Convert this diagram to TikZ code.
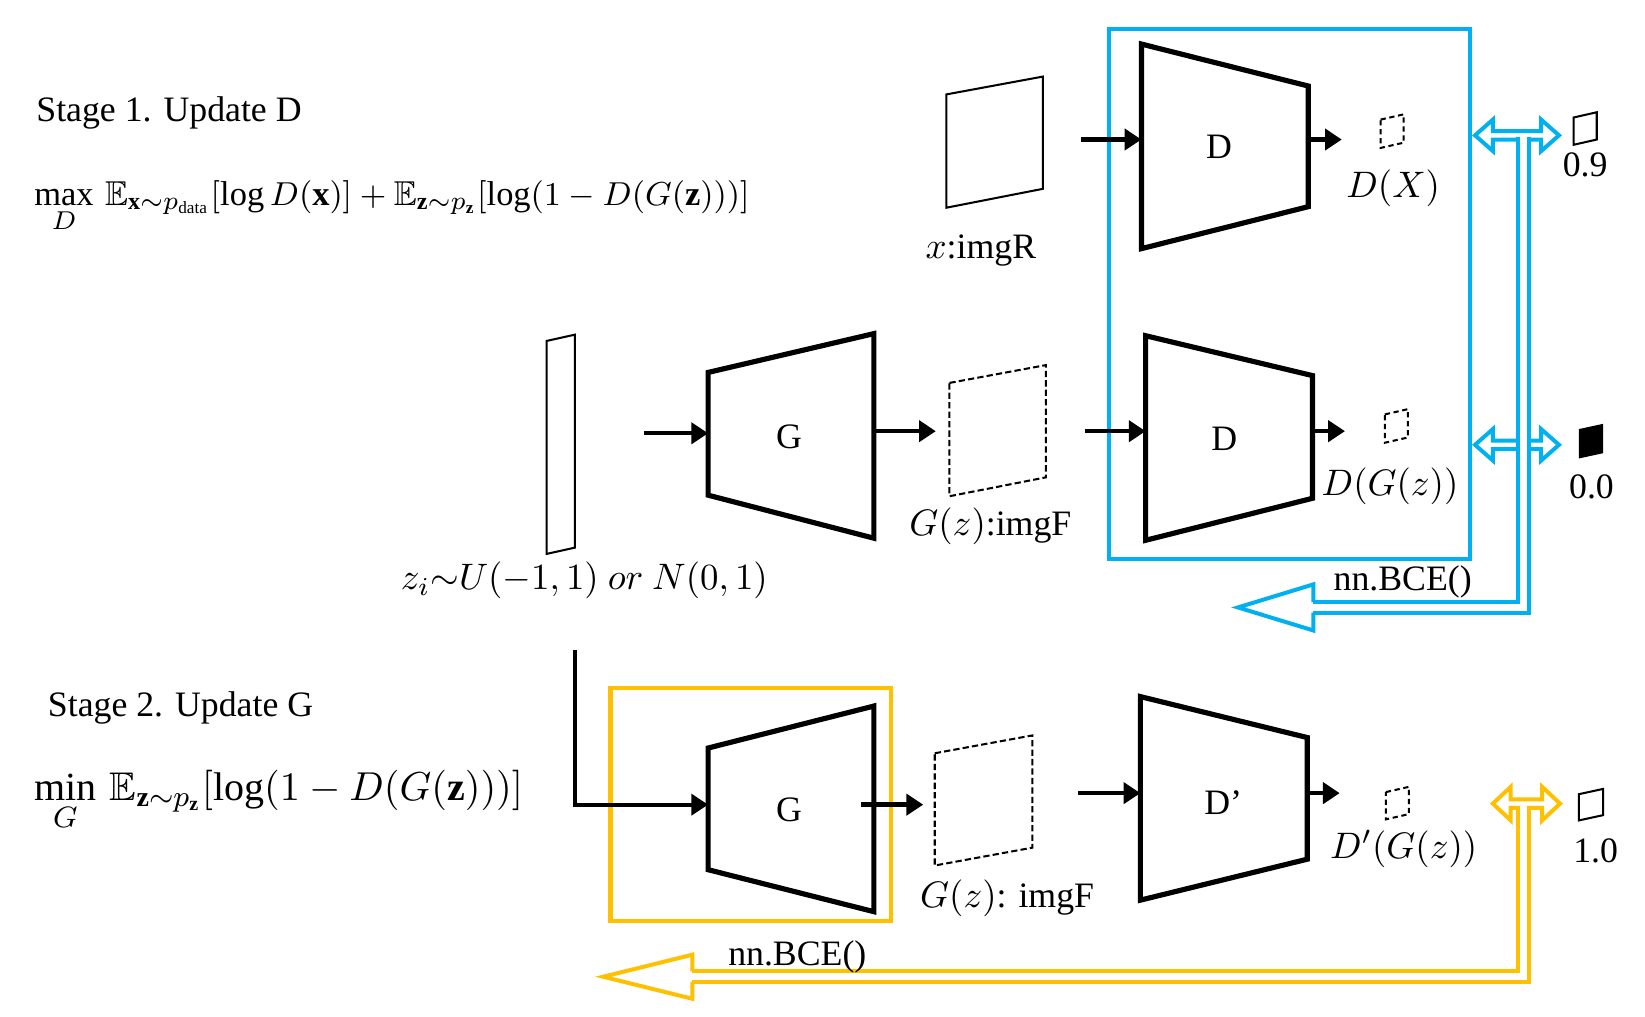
\documentclass[tikz,border=0pt]{standalone}
\usepackage{amsmath,amssymb}
\usepackage{fontspec}
\setmainfont{Liberation Serif}
\usetikzlibrary{arrows.meta}
\definecolor{bceblue}{HTML}{00B0F0}
\definecolor{bceyellow}{HTML}{FFC000}

\begin{document}
\begin{tikzpicture}[
  x = 0.1mm, y = -0.1mm,
  every node/.style = {font = \fontsize{9.7}{11}\selectfont, inner sep = 0pt},
  net/.style = {line width = 1.4pt, line join = miter},
  img/.style = {line width = 0.55pt},
  fake/.style = {img, dash pattern = on 0.6mm off 0.3mm},
  outp/.style = {img, dash pattern = on 0.5mm off 0.35mm},
  arr/.style = {line width = 1.2pt, -{Triangle[length=1.6mm, width=2.0mm]}},
  dbl/.style = {line width = 0.38mm, double = white, double distance = 0.62mm},
  hollow/.style = {line width = 0.38mm, fill = white, line join = miter}
]
\useasboundingbox (0,0) rectangle (1568,969);

% objetivos
\node[anchor=base west] (stage1) at (34,116) {Stage 1. Update D};
\node[anchor=base west, font=\fontsize{9.35}{11}\selectfont] (lossD) at (32,196)
  {$\displaystyle\max_{D}\,\mathbb{E}_{\mathbf{x}\sim p_{\mathrm{data}}}[\log D(\mathbf{x})]+\mathbb{E}_{\mathbf{z}\sim p_{\mathbf{z}}}[\log(1-D(G(\mathbf{z})))]$};
\node[anchor=base west] (stage2) at (45,683) {Stage 2. Update G};
\node[anchor=base west, font=\fontsize{10.85}{13}\selectfont] (lossG) at (32,763)
  {$\displaystyle\min_{G}\,\mathbb{E}_{\mathbf{z}\sim p_{\mathbf{z}}}[\log(1-D(G(\mathbf{z})))]$};

% caixas de treino
\draw[bceblue, line width=0.4mm] (1057,28) rectangle (1401,533);
\draw[bceyellow, line width=0.4mm] (582,656) rectangle (849,878);

% imagem real -> D
\draw[img] (902,90) -- (994,73) -- (994,180) -- (902,198) -- cycle;
\node[anchor=base] (imgR) at (935,246) {$x$:imgR};
\draw[net] (1088,42) -- (1247,82) -- (1247,197) -- (1088,237) -- cycle;
\node (Dreal) at (1162,140) {D};
\coordinate (xout) at (1030,133);
\coordinate (Drin) at (1088,133);
\coordinate (Drout) at (1247,133);
\coordinate (DX) at (1279,133);
\draw[arr] (xout) -- (Drin);
\draw[arr] (Drout) -- (DX);
\draw[outp] (1316,114) -- (1338,109) -- (1338,136) -- (1316,141) -- cycle;
\node[anchor=base] (lblDX) at (1328,188) {$D(X)$};

% z -> G -> imagem falsa -> D
\draw[img] (521,325) -- (548,319) -- (548,522) -- (521,528) -- cycle;
\node[anchor=base] (lblz) at (557,562) {$z_i{\sim}U(-1,1)\ or\ N(0,1)$};
\draw[net] (675,355) -- (833,318) -- (833,513) -- (675,472) -- cycle;
\node (Gup) at (752,416) {G};
\coordinate (zout) at (614,413);
\coordinate (Guin) at (675,413);
\coordinate (Guout) at (833,411);
\coordinate (imgFin) at (892,411);
\draw[arr] (zout) -- (Guin);
\draw[arr] (Guout) -- (imgFin);
\draw[fake] (905,365) -- (997,348) -- (997,455) -- (905,473) -- cycle;
\node[anchor=base] (imgF) at (944,510) {$G(z)$:imgF};
\draw[net] (1092,320) -- (1251,358) -- (1251,475) -- (1092,515) -- cycle;
\node (Dfake) at (1167,418) {D};
\coordinate (imgFout) at (1034,411);
\coordinate (Dfin) at (1092,411);
\coordinate (Dfout) at (1251,411);
\coordinate (DGz) at (1282,411);
\draw[arr] (imgFout) -- (Dfin);
\draw[arr] (Dfout) -- (DGz);
\draw[outp] (1320,395) -- (1342,390) -- (1342,417) -- (1320,422) -- cycle;
\node[anchor=base] (lblDGz) at (1325,472) {$D(G(z))$};

% alvos 0.9 / 0.0
\draw[img] (1500,112) -- (1522,107) -- (1522,133) -- (1500,138) -- cycle;
\node[anchor=base] (t09) at (1511,168) {0.9};
\fill (1505,409) -- (1528,404) -- (1528,432) -- (1505,437) -- cycle;
\node[anchor=base] (t00) at (1517,475) {0.0};

% perda BCE do estágio 1
\filldraw[bceblue, hollow] (1406,129) -- (1423,114) -- (1423,125) -- (1469,125)
  -- (1469,114) -- (1486,129) -- (1469,144) -- (1469,133) -- (1423,133) -- (1423,144) -- cycle;
\filldraw[bceblue, hollow] (1406,424) -- (1423,409) -- (1423,420) -- (1469,420)
  -- (1469,409) -- (1486,424) -- (1469,439) -- (1469,428) -- (1423,428) -- (1423,439) -- cycle;
\filldraw[bceblue, hollow] (1252,574) -- (1252,557) -- (1180,579) -- (1252,601) -- (1252,584);
\draw[bceblue, dbl] (1452,131) -- (1452,579) -- (1252,579);
\node[anchor=base] (bce1) at (1337,563) {nn.BCE()};

% estágio 2: z -> G -> D'
\coordinate (zdown) at (548,620);
\coordinate (Gdin) at (675,767);
\draw[line width=1pt, -{Triangle[length=1.6mm, width=2.0mm]}] (zdown) |- (Gdin);
\draw[net] (675,713) -- (833,673) -- (833,869) -- (675,829) -- cycle;
\node (Gdown) at (752,772) {G};
\coordinate (Gdout) at (821,767);
\coordinate (imgF2in) at (880,767);
\draw[arr] (Gdout) -- (imgF2in);
\draw[fake] (891,718) -- (984,701) -- (984,808) -- (891,825) -- cycle;
\node[anchor=base] (imgF2) at (960,865) {$G(z)$: imgF};
\draw[net] (1087,664) -- (1246,703) -- (1246,819) -- (1087,858) -- cycle;
\node (Dnew) at (1166,765) {D’};
\coordinate (imgF2out) at (1028,756);
\coordinate (Dnin) at (1087,756);
\coordinate (Dnout) at (1246,756);
\coordinate (DnGz) at (1277,756);
\draw[arr] (imgF2out) -- (Dnin);
\draw[arr] (Dnout) -- (DnGz);
\draw[outp] (1321,755) -- (1343,750) -- (1343,776) -- (1321,781) -- cycle;
\node[anchor=base] (lblDnGz) at (1338,818) {$D'(G(z))$};

% alvo 1.0 e perda BCE do estágio 2
\draw[img] (1505,757) -- (1528,752) -- (1528,777) -- (1505,782) -- cycle;
\node[anchor=base] (t10) at (1521,822) {1.0};
\filldraw[bceyellow, hollow] (1423,766) -- (1440,750) -- (1440,762) -- (1470,762)
  -- (1470,750) -- (1487,766) -- (1470,782) -- (1470,770) -- (1440,770) -- (1440,782) -- cycle;
\filldraw[bceyellow, hollow] (660,926) -- (660,910) -- (575,931) -- (660,952) -- (660,936);
\draw[bceyellow, dbl] (1452,768) -- (1452,931) -- (660,931);
\node[anchor=base] (bce2) at (760,920) {nn.BCE()};
\end{tikzpicture}
\end{document}
